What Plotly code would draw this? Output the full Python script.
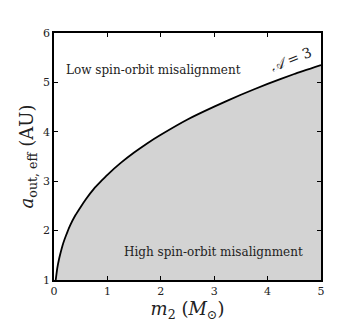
import plotly.graph_objects as go

# values
m2 = [0.032, 0.04, 0.05, 0.06, 0.08, 0.1, 0.13, 0.16, 0.2, 0.25, 0.3, 0.4, 0.5, 0.6, 0.75, 0.9, 1.0, 1.25, 1.5, 1.75, 2.0, 2.5, 3.0, 3.5, 4.0, 4.5, 5.0]
a_out = [1.00, 1.07, 1.15, 1.23, 1.35, 1.45, 1.58, 1.70, 1.83, 1.97, 2.10, 2.31, 2.48, 2.64, 2.85, 3.02, 3.13, 3.37, 3.58, 3.77, 3.94, 4.25, 4.51, 4.75, 4.97, 5.17, 5.35]
x_ticks = [0, 1, 2, 3, 4, 5]
y_ticks = [1, 2, 3, 4, 5, 6]

SERIF = "DejaVu Serif"

fig = go.Figure()
fig.add_trace(go.Scatter(
    x=m2, y=a_out, mode="lines",
    line=dict(color="black", width=1.8, shape="spline", smoothing=0.4),
    fill="tozeroy", fillcolor="#d3d3d3", showlegend=False, hoverinfo="skip",
))

axis_common = dict(
    showline=True, linecolor="black", linewidth=1.5, mirror="ticks",
    ticks="inside", ticklen=4, tickwidth=1, tickcolor="black",
    showgrid=False, zeroline=False,
    tickfont=dict(family=SERIF, size=11, color="#222"),
)

fig.update_layout(
    width=358, height=330,
    margin=dict(l=54, r=37, t=33, b=50),
    paper_bgcolor="white", plot_bgcolor="white",
    xaxis=dict(range=[0, 5], tickvals=x_ticks,
               title=dict(text="<i>m</i><sub>2</sub> (<i>M</i><sub>⊙</sub>)",
                          font=dict(family=SERIF, size=18, color="#222"), standoff=3),
               **axis_common),
    yaxis=dict(range=[1, 6], tickvals=y_ticks,
               title=dict(text="<i>a</i><sub>out, eff</sub> (AU)",
                          font=dict(family=SERIF, size=18, color="#222"), standoff=5),
               **axis_common),
    annotations=[
        dict(x=1.86, y=5.26, text="Low spin-orbit misalignment", showarrow=False,
             font=dict(family=SERIF, size=12, color="#222")),
        dict(x=2.99, y=1.56, text="High spin-orbit misalignment", showarrow=False,
             font=dict(family=SERIF, size=12, color="#222")),
        dict(x=4.45, y=5.47, text="<i>𝒜</i> = 3", showarrow=False, textangle=-22,
             font=dict(family=SERIF, size=14, color="#222")),
    ],
)

fig.write_html("out.html", config={"displayModeBar": False},
               post_script="document.body.style.margin='0';")
